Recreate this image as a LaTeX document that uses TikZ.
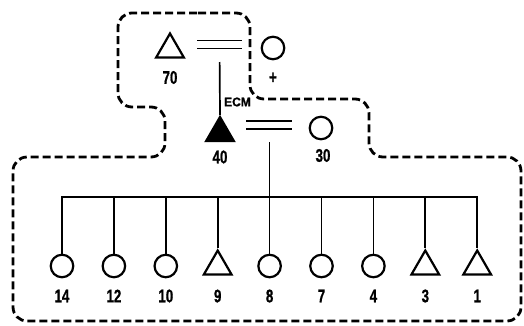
\documentclass[tikz,border=0pt]{standalone}
\usepackage{fontspec}
\usepackage{graphicx}
\setmainfont{Liberation Sans}[BoldFeatures={FakeBold=1.2}]
\usetikzlibrary{shapes.geometric}
\newcommand{\condlab}[1]{\scalebox{0.95}[1.3]{#1}}
\begin{document}
\begin{tikzpicture}[x=1pt,y=-1pt,
 ring/.style={circle,draw,line width=2.2pt,minimum size=22.5pt,inner sep=0pt},
 tri/.style={regular polygon,regular polygon sides=3,draw,line width=2.2pt,minimum size=32pt,inner sep=0pt},
 ftri/.style={tri,fill=black},
 lab/.style={font=\bfseries\fontsize{14}{14}\selectfont,inner sep=0pt},
 slab/.style={font=\bfseries\fontsize{12}{12}\selectfont,inner sep=0pt},
 wire/.style={line width=1.7pt},
 bond/.style={line width=1.5pt,double distance=6.5pt},
 border/.style={line width=2.8pt,dash pattern=on 8pt off 4pt,rounded corners=14pt}]
\useasboundingbox (0,0) rectangle (524,325);

% dashed boundary
\draw[border] (184,13) -- (250,13) -- (250,99) -- (369,99) -- (369,157) -- (521,157)
  -- (521,321) -- (13,321) -- (13,157) -- (165,157) -- (165,107) -- (118,107) -- (118,13) -- cycle;

% top group
\node[tri] (t70) at (170,49.5) {};
\node[lab] (l70) at (170,77.5) {\condlab{70}};
\node[ring] (cplus) at (273,48) {};
\node[lab] (lplus) at (273,78) {\condlab{+}};
\coordinate (b1) at (219.5,44.5);
\draw[bond] (197,44.5) -- (242,44.5);

\node[ftri] (t40) at (220,133) {};
\node[lab] (l40) at (220,157) {\condlab{40}};
\node[slab] (ecm) at (237.5,102) {\scalebox{1}[1.05]{ECM}};
\draw[wire,shorten <=17.5pt] (b1) -- (t40.corner 1);

\node[ring] (c30) at (321,128) {};
\node[lab] (l30) at (323,155.5) {\condlab{30}};
\coordinate (b2) at (269.6,125);
\draw[bond] (246,125) -- (292,125);

% bottom row
\coordinate (bus) at (0,197);
\node[ring] (n14) at (62,266) {};
\node[ring] (n12) at (113.9,266) {};
\node[ring] (n10) at (165.8,266) {};
\node[tri]  (n9)  at (217.7,266.5) {};
\node[ring] (n8)  at (269.6,266) {};
\node[ring] (n7)  at (321.5,266) {};
\node[ring] (n4)  at (373.4,266) {};
\node[tri]  (n3)  at (425.3,266.5) {};
\node[tri]  (n1)  at (477.2,266.5) {};

\node[lab] (l14) at (62,296) {\condlab{14}};
\node[lab] (l12) at (113.9,296) {\condlab{12}};
\node[lab] (l10) at (165.8,296) {\condlab{10}};
\node[lab] (l9)  at (217.7,296) {\condlab{9}};
\node[lab] (l8)  at (269.6,296) {\condlab{8}};
\node[lab] (l7)  at (321.5,296) {\condlab{7}};
\node[lab] (l4)  at (373.4,296) {\condlab{4}};
\node[lab] (l3)  at (425.3,296) {\condlab{3}};
\node[lab] (l1)  at (477.2,296) {\condlab{1}};

\draw[wire] (n14.north) -- (n14.north |- bus) -- (n1.corner 1 |- bus) -- (n1.corner 1);
\draw[wire] (n12.north) -- (n12.north |- bus);
\draw[wire] (n10.north) -- (n10.north |- bus);
\draw[wire] (n9.corner 1) -- (n9.corner 1 |- bus);
\draw[wire] (n7.north) -- (n7.north |- bus);
\draw[wire] (n4.north) -- (n4.north |- bus);
\draw[wire] (n3.corner 1) -- (n3.corner 1 |- bus);
\draw[wire,shorten <=17pt] (b2) -- (n8.north);
\end{tikzpicture}
\end{document}
